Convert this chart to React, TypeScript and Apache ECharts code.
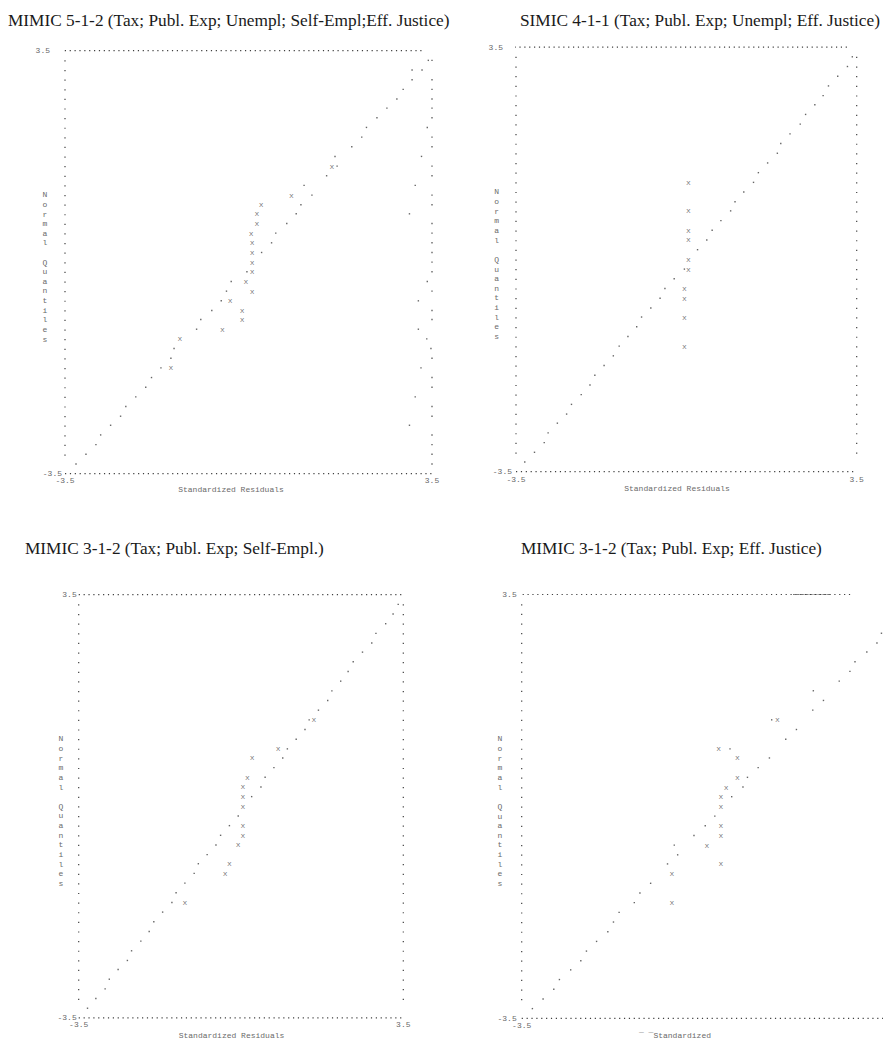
import React, { useEffect, useRef } from "react";
import * as echarts from "echarts";

// ---------- data ----------
const titles = [
  "MIMIC 5-1-2 (Tax; Publ. Exp; Unempl; Self-Empl;Eff. Justice)",
  "SIMIC 4-1-1 (Tax; Publ. Exp; Unempl; Eff. Justice)",
  "MIMIC 3-1-2 (Tax; Publ. Exp; Self-Empl.)",
  "MIMIC 3-1-2 (Tax; Publ. Exp; Eff. Justice)",
];
const xAxisTitles = ["Standardized Residuals", "Standardized Residuals", "Standardized Residuals", "\u00AF \u00AFStandardized"];
const yAxisTitleChars = ["N", "o", "r", "m", "a", "l", " ", "Q", "u", "a", "n", "t", "i", "l", "e", "s"];
const axisTicks = [-3.5, 3.5];

// normal quantile of each text row of the line-printer plot (row 0 = top)
const rowQuantiles = [
  3.34, 3.18, 3.02, 2.86, 2.7, 2.55, 2.39, 2.23, 2.07, 1.91, 1.75, 1.59, 1.43, 1.27, 1.11, 0.95, 0.8, 0.64, 0.48, 0.32, 0.16, 0.0,
  -0.16, -0.32, -0.48, -0.64, -0.8, -0.95, -1.11, -1.27, -1.43, -1.59, -1.75, -1.91, -2.07, -2.23, -2.39, -2.55, -2.7, -2.86, -3.02, -3.18, -3.34,
];

// [row, standardized residual] for "." marks
const p1Dots = [
  [0, 3.43], [1, 3.31], [2, 3.12], [3, 2.95], [4, 2.83], [5, 2.64], [6, 2.45], [7, 2.25], [8, 2.16], [9, 1.97], [10, 1.65], [11, 1.69],
  [12, 1.49], [13, 1.06], [14, 1.21], [15, 1.0], [16, 0.91], [17, 0.73], [18, 0.52], [19, 0.44], [20, 0.25], [22, -0.03], [23, -0.33],
  [24, -0.42], [25, -0.52], [26, -0.7], [27, -0.91], [28, -0.99], [30, -1.42], [31, -1.48], [32, -1.67], [33, -1.85], [34, -1.96],
  [35, -2.15], [36, -2.34], [37, -2.44], [38, -2.63], [39, -2.82], [40, -2.91], [41, -3.1], [42, -3.29],
];
// right-hand column of panel 1 (irregular), one value per row
const p1RightColumn = [
  3.5, 3.12, 3.5, 3.5, 3.5, 3.5, 3.5, 3.41, 3.5, 3.5, 3.3, 3.5, 3.5, 3.18, 3.5, 3.5, 3.07, 3.5, 3.5, 3.5, 3.5, 3.5,
  3.5, 3.41, 3.5, 3.24, 3.5, 3.5, 3.24, 3.4, 3.48, 3.5, 3.29, 3.5, 3.5, 3.18, 3.5, 3.5, 3.07, 3.5, 3.5, 3.5, 3.5,
];
// [row, standardized residual] for "x" marks
const p1X = [
  [11, 1.59], [14, 0.82], [15, 0.24], [16, 0.16], [17, 0.16], [18, 0.05], [19, 0.07], [20, 0.07], [21, 0.07], [22, 0.07],
  [23, -0.05], [24, 0.07], [25, -0.35], [26, -0.12], [27, -0.12], [28, -0.5], [29, -1.31], [32, -1.48],
];

const p2Dots = [
  [0, 3.41], [1, 3.31], [2, 3.11], [3, 2.92], [4, 2.81], [5, 2.64], [6, 2.45], [7, 2.34], [8, 2.13], [9, 1.94], [10, 1.87], [11, 1.67],
  [12, 1.48], [13, 1.38], [14, 1.18], [15, 1.0], [16, 0.91], [17, 0.71], [18, 0.53], [19, 0.42], [20, 0.23], [22, -0.04], [23, -0.25],
  [24, -0.44], [25, -0.54], [26, -0.73], [27, -0.92], [28, -1.02], [29, -1.2], [30, -1.38], [31, -1.5], [32, -1.69], [33, -1.88],
  [34, -1.98], [35, -2.16], [36, -2.36], [37, -2.46], [38, -2.65], [39, -2.84], [40, -2.92], [41, -3.12], [42, -3.32],
];
const p2X = [
  [13, 0.04], [16, 0.04], [18, 0.04], [19, 0.04], [21, 0.04], [22, 0.04], [24, -0.04], [25, -0.04], [27, -0.04], [30, -0.04],
];

const p3Dots = [
  [0, 3.39], [1, 3.28], [2, 3.12], [3, 2.91], [4, 2.82], [5, 2.62], [6, 2.42], [7, 2.31], [8, 2.15], [9, 1.96], [10, 1.87], [11, 1.67],
  [12, 1.47], [13, 1.38], [14, 1.19], [15, 1.0], [16, 0.9], [17, 0.71], [18, 0.52], [19, 0.43], [20, 0.23], [22, -0.06], [23, -0.25],
  [24, -0.44], [25, -0.54], [26, -0.73], [27, -0.92], [28, -1.01], [29, -1.21], [30, -1.4], [31, -1.49], [32, -1.69], [33, -1.88],
  [34, -1.98], [35, -2.16], [36, -2.36], [37, -2.45], [38, -2.65], [39, -2.84], [40, -2.93], [41, -3.13], [42, -3.31],
];
const p3X = [
  [12, 1.57], [15, 0.8], [16, 0.24], [18, 0.14], [19, 0.04], [20, 0.04], [21, 0.04], [23, 0.04], [24, 0.04], [25, -0.06],
  [27, -0.25], [28, -0.34], [31, -1.21],
];

const p4Dots = [
  [3, 2.89], [4, 2.81], [5, 2.63], [6, 2.42], [7, 2.33], [8, 2.14], [9, 1.68], [10, 1.86], [11, 1.67], [12, 0.94], [13, 1.38],
  [14, 1.19], [15, 0.2], [16, 0.9], [17, 0.7], [18, 0.51], [19, 0.43], [20, 0.23], [22, -0.07], [23, -0.24], [24, -0.44],
  [25, -0.79], [26, -0.73], [27, -0.91], [29, -1.21], [30, -1.4], [31, -1.5], [32, -1.77], [33, -1.87], [34, -1.97], [35, -2.17],
  [36, -2.35], [37, -2.45], [38, -2.63], [39, -2.83], [40, -2.93], [41, -3.12], [42, -3.31],
];
const p4X = [
  [12, 1.04], [15, 0.0], [16, 0.33], [18, 0.33], [19, 0.13], [20, 0.04], [21, 0.04], [23, 0.04], [24, 0.04], [25, -0.21],
  [27, 0.04], [28, -0.83], [31, -0.83],
];

const panelDots = [p1Dots, p2Dots, p3Dots, p4Dots];
const panelX = [p1X, p2X, p3X, p4X];

// ---------- layout (positions / styles) ----------
const layouts = [
  { left: 65, top: 50.7, width: 367, height: 422.9, topLine: [-3.69, 3.33], right: false, yMargin: 3, topPad: 12, xMargin: 3,
    titleX: 8, titleY: 12, nameX: 231, nameY: 485, qX: 45, showMax: true },
  { left: 516, top: 47.1, width: 340.7, height: 424.6, topLine: [-3.73, 3.33], right: true, yMargin: 4, topPad: 9, xMargin: 4,
    titleX: 520, titleY: 12, nameX: 677, nameY: 484, qX: 496.7, showMax: true },
  { left: 78.7, top: 594.7, width: 324.6, height: 423.2, topLine: [-3.5, 3.5], right: true, yMargin: 2, topPad: 0, xMargin: 3,
    titleX: 25, titleY: 540, nameX: 231.5, nameY: 1031, qX: 61, showMax: true },
  { left: 521.7, top: 594.5, width: 394.1, height: 423.8, topLine: [-3.57, 2.39], right: false, yMargin: 5, topPad: 0, xMargin: 3,
    titleX: 521, titleY: 540, nameX: 675, nameY: 1031, qX: 500, dense: [1.32, 1.98], showMax: false },
];

const MONO = "'Liberation Mono', 'DejaVu Sans Mono', monospace";
const SERIF = "'Liberation Serif', 'DejaVu Serif', serif";
const TEXT_GREY = "#6a6a6a";
const DOT = "#404040";

export default function App() {
  const ref = useRef<HTMLDivElement>(null);
  useEffect(() => {
    const chart = echarts.init(ref.current!, undefined, { renderer: "svg" });
    const grid: any[] = [];
    const xAxis: any[] = [];
    const yAxis: any[] = [];
    const series: any[] = [];
    const graphic: any[] = [];
    const title: any[] = [];
    const top = axisTicks[1];
    const bottom = axisTicks[0];
    const firstRow = rowQuantiles[0];
    const lastRow = rowQuantiles[rowQuantiles.length - 1];

    layouts.forEach((L: any, i) => {
      const rowPx = L.height / 44;
      grid.push({ left: L.left, top: L.top, width: L.width, height: L.height, outerBoundsMode: "none", containLabel: false });
      xAxis.push({
        gridIndex: i, type: "value", min: axisTicks[0], max: axisTicks[1], interval: 7,
        axisLine: { show: false }, axisTick: { show: false }, splitLine: { show: false },
        axisLabel: { margin: L.xMargin, fontFamily: MONO, fontSize: 8, color: TEXT_GREY, showMinLabel: true, showMaxLabel: L.showMax },
      });
      yAxis.push({
        gridIndex: i, type: "value", min: axisTicks[0], max: axisTicks[1], interval: 7,
        axisLine: { show: false }, axisTick: { show: false }, splitLine: { show: false },
        axisLabel: {
          margin: L.yMargin, fontFamily: MONO, fontSize: 8, color: TEXT_GREY, showMinLabel: true, showMaxLabel: true,
          formatter: (v: number) => (v > 0 ? `{t|${v}}` : `{b|${v}}`),
          rich: {
            t: { padding: [0, L.topPad, 0, 0], fontFamily: MONO, fontSize: 8, color: TEXT_GREY },
            b: { fontFamily: MONO, fontSize: 8, color: TEXT_GREY },
          },
        },
      });
      const border = (data: number[][], dash: number[], extra: any = {}) => ({
        type: "line", xAxisIndex: i, yAxisIndex: i, data, symbol: "none", silent: true, clip: false,
        lineStyle: { color: DOT, width: 1.2, type: dash, ...extra }, z: 1,
      });
      const hDash = [1.2, 3.67];
      const vDash = [1.2, rowPx - 1.2];
      series.push(border([[L.topLine[0], top], [L.topLine[1], top]], hDash));
      series.push(border([[axisTicks[0], bottom], [axisTicks[1], bottom]], hDash));
      series.push(border([[axisTicks[0], firstRow], [axisTicks[0], lastRow]], vDash));
      if (L.right) series.push(border([[axisTicks[1], firstRow], [axisTicks[1], lastRow]], vDash));
      if (L.dense) series.push(border([[L.dense[0], top], [L.dense[1], top]], [0.7, 0.6], { width: 1 }));
      if (i === 0) {
        series.push({
          type: "scatter", xAxisIndex: i, yAxisIndex: i, silent: true, symbol: "rect", symbolSize: 1.4,
          itemStyle: { color: DOT }, data: p1RightColumn.map((x, r) => [x, rowQuantiles[r]]),
        });
      }
      series.push({
        type: "scatter", xAxisIndex: i, yAxisIndex: i, silent: true, symbol: "rect", symbolSize: 1.4,
        itemStyle: { color: DOT }, data: panelDots[i].map(([r, x]) => [x, rowQuantiles[r]]),
      });
      series.push({
        type: "scatter", xAxisIndex: i, yAxisIndex: i, silent: true, symbol: "rect", symbolSize: 0,
        data: panelX[i].map(([r, x]) => [x, rowQuantiles[r]]),
        label: { show: true, position: "inside", formatter: "x", fontFamily: MONO, fontSize: 8, color: "#555" },
      });
      title.push({
        text: titles[i], left: L.titleX, top: L.titleY, padding: 0,
        textStyle: { fontFamily: SERIF, fontSize: 17.3, fontWeight: "normal", color: "#1a1a1a" },
      });
      graphic.push({
        type: "text", x: L.nameX, y: L.nameY, silent: true,
        style: { text: xAxisTitles[i], font: `8px ${MONO}`, fill: TEXT_GREY, align: "center", verticalAlign: "top" },
      });
      graphic.push({
        type: "text", x: L.qX, y: L.top + 15 * rowPx - rowPx / 2, silent: true,
        style: {
          text: yAxisTitleChars.join("\n"), font: `8px ${MONO}`, fill: TEXT_GREY, align: "center",
          verticalAlign: "top", lineHeight: rowPx,
        },
      });
    });

    chart.setOption({ animation: false, backgroundColor: "#fff", title, grid, xAxis, yAxis, series, graphic });
    return () => chart.dispose();
  }, []);
  return <div ref={ref} style={{ position: "absolute", left: 0, top: 0, width: 883, height: 1041 }} />;
}
